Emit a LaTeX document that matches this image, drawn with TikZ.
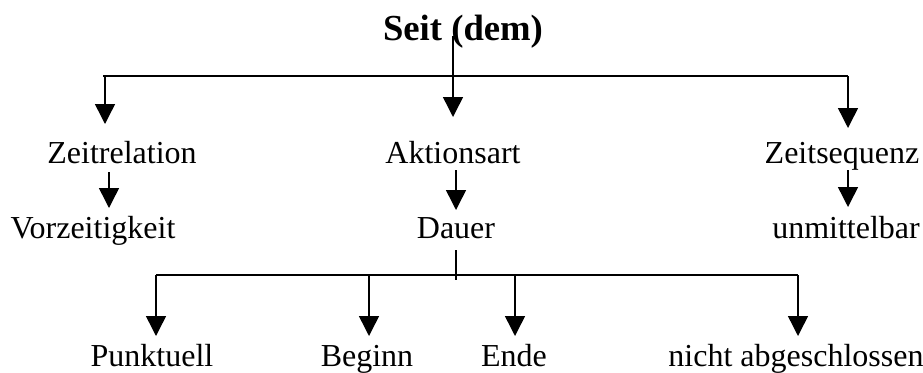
\documentclass[tikz,border=0pt]{standalone}
\usepackage{fontspec}
\setmainfont{Liberation Serif}
\usetikzlibrary{arrows.meta}
\begin{document}
\begin{tikzpicture}[x=0.75pt,y=-0.75pt,
  lbl/.style={anchor=base,inner sep=0pt,font=\fontsize{24}{28}\selectfont},
  ttl/.style={anchor=base,inner sep=0pt,font=\fontsize{27.5}{32}\selectfont\bfseries},
  bus/.style={line width=1.5pt},
  arr/.style={line width=1.1pt,-{Triangle[width=15pt,length=15pt]}}]
\useasboundingbox (0,0) rectangle (923,372);
% texts
\node[ttl] (seit) at (463,40) {Seit (dem)};
\node[lbl] (zr) at (122,163) {Zeitrelation};
\node[lbl] (ak) at (453,163) {Aktionsart};
\node[lbl] (zs) at (842,163) {Zeitsequenz};
\node[lbl] (vz) at (93,238) {Vorzeitigkeit};
\node[lbl] (da) at (456,238) {Dauer};
\node[lbl] (um) at (846,238) {unmittelbar};
\node[lbl] (pu) at (152,366) {Punktuell};
\node[lbl] (be) at (367,366) {Beginn};
\node[lbl] (en) at (514,366) {Ende};
\node[lbl] (na) at (796,366) {nicht abgeschlossen};
% top bus
\coordinate (tl) at (103,76);
\coordinate (tr) at (848,76);
\coordinate (ts) at (453,36);
\coordinate (tm) at (453,76);
\coordinate (tipzr) at (105,124);
\coordinate (tipak) at (453,117);
\coordinate (tipzs) at (848,128);
\draw[bus] (tl) -- (tr);
\draw[arr] (ts) -- (tipak);
\draw[arr] (tl) ++(2,0) coordinate (tl2) -- (tipzr);
\draw[arr] (tr) -- (tipzs);
% second row arrows
\coordinate (szr) at (109,172);
\coordinate (ezr) at (109,208);
\coordinate (sak) at (456,170);
\coordinate (eak) at (456,210);
\coordinate (szs) at (848,170);
\coordinate (ezs) at (848,207);
\draw[arr] (szr) -- (ezr);
\draw[arr] (sak) -- (eak);
\draw[arr] (szs) -- (ezs);
% lower bus
\coordinate (ds) at (456,250);
\coordinate (de) at (456,280);
\coordinate (bl) at (156,275);
\coordinate (br) at (798,275);
\draw[line width=1.1pt] (ds) -- (de);
\draw[bus] (bl) -- (br);
\coordinate (bb) at (369,275);
\coordinate (be2) at (515,275);
\draw[arr] (bl) -- (156,336) coordinate (tippu);
\draw[arr] (bb) -- (369,336) coordinate (tipbe);
\draw[arr] (be2) -- (515,336) coordinate (tipen);
\draw[arr] (br) -- (798,336) coordinate (tipna);
\end{tikzpicture}
\end{document}
